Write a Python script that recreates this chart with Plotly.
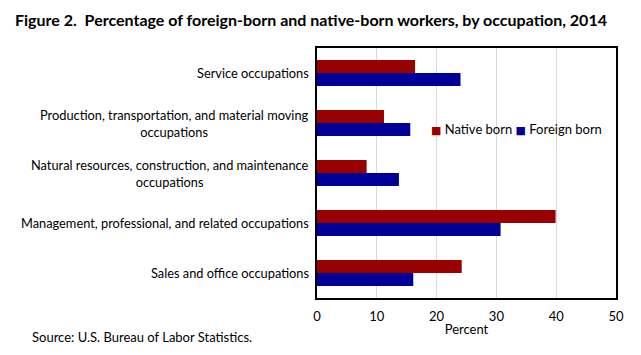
import plotly.graph_objects as go

categories = [
    "Service occupations",
    "Production, transportation, and material moving<br>occupations",
    "Natural resources, construction, and maintenance<br>occupations",
    "Management, professional, and related occupations",
    "Sales and office occupations",
]
native_born = [16.4, 11.2, 8.3, 39.9, 24.2]
foreign_born = [24.0, 15.6, 13.7, 30.7, 16.1]
x_ticks = [0, 10, 20, 30, 40, 50]

NATIVE_COLOR = "#990000"
FOREIGN_COLOR = "#000099"
FONT = "Lato"

# page has an 8px body margin; figure drawn 8px smaller and offset-compensated
W, H = 633, 347
L, R, T, B = 308.5, 25, 39.5, 57
PW, PH = W - L - R, H - T - B


def px_x(x):
    return (x - L) / PW


def px_y(y):
    return (H - B - y) / PH


fig = go.Figure()
fig.add_trace(go.Bar(y=categories, x=native_born, orientation="h", name="Native born",
                     marker=dict(color=NATIVE_COLOR, line=dict(width=0))))
fig.add_trace(go.Bar(y=categories, x=foreign_born, orientation="h", name="Foreign born",
                     marker=dict(color=FOREIGN_COLOR, line=dict(width=0))))

annotations = []
for c in categories:
    annotations.append(dict(text=c, x=0, xref="paper", xanchor="right", xshift=-6,
                            y=c, yref="y", yanchor="middle", align="center", showarrow=False,
                            font=dict(family=FONT, size=12.8, color="black")))
annotations.append(dict(text="Source: U.S. Bureau of Labor Statistics.",
                        x=px_x(21), xref="paper", xanchor="left",
                        y=px_y(329), yref="paper", yanchor="middle", showarrow=False,
                        font=dict(family=FONT, size=13, color="black")))
legend_text = (f"<span style='color:{NATIVE_COLOR};font-family:DejaVu Sans;font-size:11px'>■</span> Native born "
               f"<span style='color:{FOREIGN_COLOR};font-family:DejaVu Sans;font-size:11px'>■</span> Foreign born")
annotations.append(dict(text=legend_text, x=px_x(421), xref="paper", xanchor="left",
                        y=px_y(121), yref="paper", yanchor="middle", showarrow=False,
                        font=dict(family=FONT, size=13, color="black")))

fig.update_layout(
    width=W, height=H,
    margin=dict(l=L, r=R, t=T, b=B, pad=0),
    paper_bgcolor="white", plot_bgcolor="white",
    barmode="group", bargap=0.48, bargroupgap=0,
    font=dict(family=FONT, size=13, color="black"),
    title=dict(text="<b>Figure 2.  Percentage of foreign-born and native-born workers, by occupation, 2014</b>",
               x=7 / W, xanchor="left", y=1 - 12 / H, yanchor="middle",
               font=dict(family=FONT, size=16, color="black")),
    xaxis=dict(range=[0, 50], tickvals=x_ticks, showgrid=True, gridcolor="#d9d9d9", gridwidth=1,
               showline=True, linecolor="black", linewidth=1.5, mirror=True, zeroline=False,
               ticks="outside", ticklen=6, tickcolor="rgba(0,0,0,0)", tickfont=dict(size=13),
               title=dict(text="Percent", standoff=2, font=dict(size=13))),
    yaxis=dict(autorange="reversed", showticklabels=False, showline=True, linecolor="black",
               linewidth=1.5, mirror=True, ticks="", showgrid=False),
    showlegend=False,
    annotations=annotations,
)
fig.write_html("out.html")
